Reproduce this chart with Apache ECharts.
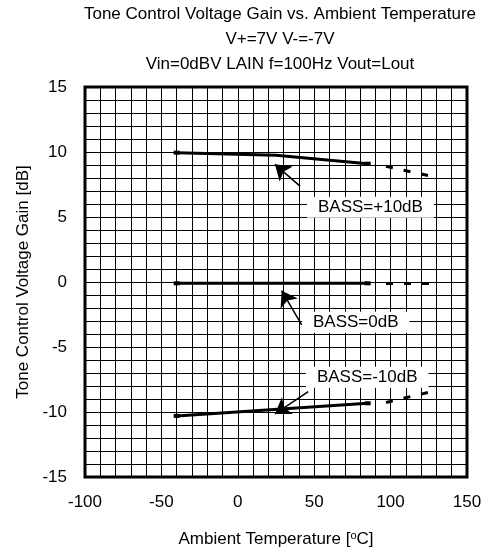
<!DOCTYPE html>
<html>
<head>
<meta charset="utf-8">
<script src="https://cdn.jsdelivr.net/npm/echarts@6/dist/echarts.min.js"></script>
<style>
html,body{margin:0;padding:0;background:#fff;}
#chart{width:490px;height:554px;}
</style>
</head>
<body>
<div id="chart"></div>
<script>
// ---- data ----
const titleLines = ['Tone Control Voltage Gain vs. Ambient Temperature', 'V+=7V V-=-7V', 'Vin=0dBV LAIN f=100Hz Vout=Lout'];
const xTicks = [-100, -50, 0, 50, 100, 150];
const yTicks = [-15, -10, -5, 0, 5, 10, 15];

const bassP10Temp = [-40, 25, 85];
const bassP10Gain = [9.95, 9.75, 9.1];
const bassP10DashTemp = [97, 126];
const bassP10DashGain = [8.9, 8.15];

const bass0Temp = [-40, 85];
const bass0Gain = [-0.1, -0.1];
const bass0DashTemp = [97, 126];
const bass0DashGain = [-0.12, -0.12];

const bassM10Temp = [-40, 85];
const bassM10Gain = [-10.3, -9.33];
const bassM10DashTemp = [97, 126];
const bassM10DashGain = [-9.27, -8.45];

const labelNames = ['BASS=+10dB', 'BASS=0dB', 'BASS=-10dB'];
const labelPos = [[86.8, 5.75], [77.2, -3.1], [84.7, -7.32]];
const arrowTail = [[40.7, 7.38], [41.8, -3.3], [46.1, -8.44]];
const arrowTip = [[24.3, 9.05], [28.7, -0.67], [24.3, -10.15]];

// ---- build ----
const FONT = 'Liberation Sans, Arial, sans-serif';
function pairs(xs, ys) { return xs.map((x, i) => [x, ys[i]]); }
function solidData(xs, ys) {
  return xs.map((x, i) => {
    const item = { value: [x, ys[i]] };
    if (i !== 0 && i !== xs.length - 1) item.symbol = 'none';
    return item;
  });
}
function solidSeries(xs, ys) {
  return {
    type: 'line', data: solidData(xs, ys), symbol: 'rect', symbolSize: [6, 4],
    itemStyle: { color: '#000' }, lineStyle: { color: '#000', width: 3 },
    showSymbol: true, silent: true, z: 5
  };
}
function dashSeries(xs, ys) {
  return {
    type: 'line', data: pairs(xs, ys), symbol: 'none',
    lineStyle: { color: '#000', width: 3, type: [7, 11] }, silent: true, z: 5
  };
}

const series = [
  solidSeries(bassP10Temp, bassP10Gain), dashSeries(bassP10DashTemp, bassP10DashGain),
  solidSeries(bass0Temp, bass0Gain), dashSeries(bass0DashTemp, bass0DashGain),
  solidSeries(bassM10Temp, bassM10Gain), dashSeries(bassM10DashTemp, bassM10DashGain),
  {
    type: 'line', data: [], silent: true, z: 6,
    markLine: {
      silent: true, symbol: ['none', 'arrow'], symbolSize: 15,
      lineStyle: { color: '#000', width: 1.5, type: 'solid' },
      itemStyle: { color: '#000' },
      label: { show: false },
      data: arrowTail.map((t, i) => [{ coord: t }, { coord: arrowTip[i] }])
    },
    markPoint: {
      silent: true, symbol: 'rect', symbolSize: 1,
      itemStyle: { color: 'rgba(0,0,0,0)' },
      label: {
        show: true, position: 'inside', color: '#000', fontFamily: FONT, fontSize: 17,
        backgroundColor: '#fff', lineHeight: 17, padding: [2, 11, 2, 11]
      },
      data: labelNames.map((n, i) => ({ coord: labelPos[i], value: n, label: { formatter: n } }))
    }
  }
];

const chart = echarts.init(document.getElementById('chart'), null, { renderer: 'canvas' });
chart.setOption({
  animation: false,
  backgroundColor: '#fff',
  textStyle: { fontFamily: FONT },
  title: {
    text: titleLines.join('\n'), left: 280, top: 2, textAlign: 'center', padding: 0,
    textStyle: { fontFamily: FONT, fontSize: 17, fontWeight: 'normal', color: '#000', lineHeight: 25 }
  },
  grid: { left: 85, top: 87, width: 382, height: 390, show: true, borderColor: '#000', borderWidth: 3 },
  xAxis: {
    type: 'value', min: xTicks[0], max: xTicks[xTicks.length - 1], interval: 50,
    name: 'Ambient Temperature [{sup|o}C]', nameLocation: 'middle', nameGap: 53,
    nameTextStyle: { fontFamily: FONT, fontSize: 17, color: '#000', rich: { sup: { fontSize: 11, verticalAlign: 'top', padding: [0, 0, 8, 0], fontFamily: FONT, color: '#000' } } },
    axisLine: { show: false }, axisTick: { show: false },
    axisLabel: { fontFamily: FONT, fontSize: 17, color: '#000', margin: 17, formatter: v => String(v) },
    splitLine: { show: true, lineStyle: { color: '#000', width: 1 } },
    minorTick: { show: false, splitNumber: 5 },
    minorSplitLine: { show: true, lineStyle: { color: '#000', width: 1 } }
  },
  yAxis: {
    type: 'value', min: yTicks[0], max: yTicks[yTicks.length - 1], interval: 5,
    name: 'Tone Control Voltage Gain [dB]', nameLocation: 'middle', nameGap: 52,
    nameTextStyle: { fontFamily: FONT, fontSize: 17, color: '#000' },
    axisLine: { show: false }, axisTick: { show: false },
    axisLabel: { fontFamily: FONT, fontSize: 17, color: '#000', margin: 18, formatter: v => String(v) },
    splitLine: { show: true, lineStyle: { color: '#000', width: 1 } },
    minorTick: { show: false, splitNumber: 5 },
    minorSplitLine: { show: true, lineStyle: { color: '#000', width: 1 } }
  },
  series: series
});
</script>
</body>
</html>
